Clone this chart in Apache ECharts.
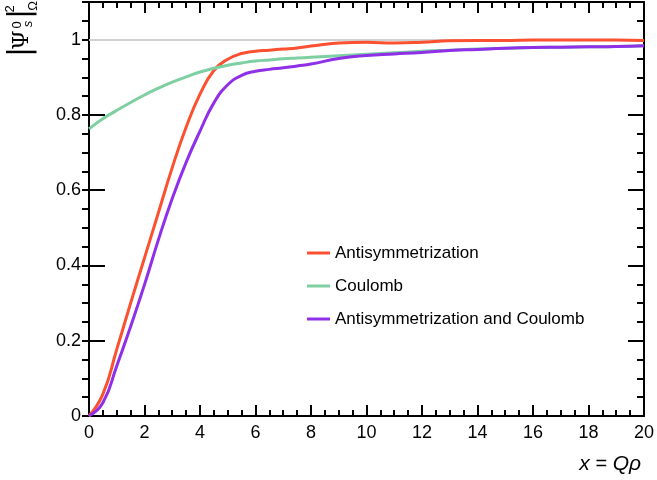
<!DOCTYPE html>
<html>
<head>
<meta charset="utf-8">
<script src="https://cdn.jsdelivr.net/npm/echarts@6.0.0/dist/echarts.min.js"></script>
<style>
html,body{margin:0;padding:0;background:#fff}
#main{width:657px;height:480px}
</style>
</head>
<body>
<div id="main"></div>
<script>
// x = Q rho sample points
var xs = [0,0.5,1,1.5,2,2.5,3,3.5,4,4.5,5,5.5,6,6.5,7,7.5,8,9,10,11,12,13,14,15,16,17,18,19,20];
var antisym = [0,0.058,0.177,0.30,0.42,0.54,0.66,0.767,0.855,0.918,0.948,0.963,0.969,0.972,0.975,0.978,0.983,0.991,0.993,0.991,0.993,0.997,0.998,0.998,0.999,0.999,0.999,0.999,0.998];
var coulomb = [0.763,0.79,0.812,0.833,0.853,0.871,0.887,0.901,0.914,0.924,0.932,0.938,0.943,0.946,0.949,0.951,0.953,0.957,0.961,0.965,0.969,0.972,0.975,0.977,0.979,0.98,0.981,0.982,0.984];
var both = [0,0.035,0.133,0.238,0.349,0.468,0.578,0.674,0.757,0.832,0.88,0.905,0.916,0.921,0.925,0.93,0.935,0.95,0.958,0.962,0.966,0.971,0.974,0.977,0.979,0.98,0.981,0.982,0.984];
var names = ['Antisymmetrization','Coulomb','Antisymmetrization and Coulomb'];
var colors = ['#fc5130','#7ecfa2','#8f2fe8'];

function pairs(ys){
  var out=[]
  for(var i=0;i<xs.length;i++) out.push([xs[i],ys[i]])
  return out
}

var chart = echarts.init(document.getElementById('main'), null, {renderer:'canvas'});
var font = 'Liberation Sans, Arial, sans-serif';
var frame = {show:true, onZero:false, lineStyle:{color:'#000', width:2}};

function xAx(pos, labels){
  return {
    type:'value', position:pos, min:0, max:20, interval:2,
    axisLine:frame,
    axisTick:{show:true, inside:true, length:11, lineStyle:{color:'#000', width:2}},
    minorTick:{show:true, splitNumber:4, length:6, lineStyle:{color:'#000', width:2}},
    axisLabel:{show:labels, color:'#000', fontSize:18, fontFamily:font, margin:8},
    splitLine:{show:false}
  }
}
function yMajor(pos, labels){
  return {
    type:'value', position:pos, min:0, max:1.1, interval:0.2,
    axisLine:frame,
    axisTick:{show:true, inside:true, length:16, lineStyle:{color:'#000', width:2}},
    axisLabel:{show:labels, color:'#000', fontSize:18, fontFamily:font, margin:8, showMaxLabel:false},
    splitLine:{show:false}
  }
}
// short ticks every 0.05; the right one needs inside:false to point into the plot
function yMinor(pos, inside){
  return {
    type:'value', position:pos, min:0, max:1.1, interval:0.05,
    axisLine:{show:false, onZero:false},
    axisTick:{show:true, inside:inside, length:7, lineStyle:{color:'#000', width:2}},
    axisLabel:{show:false},
    splitLine:{show:false}
  }
}

var series = [];
[antisym, coulomb, both].forEach(function(ys, i){
  series.push({
    name:names[i], type:'line', xAxisIndex:0, yAxisIndex:0,
    data:pairs(ys), smooth:0.5, showSymbol:false, symbol:'none',
    lineStyle:{color:colors[i], width:3}, itemStyle:{color:colors[i]},
    z:3+i
  })
})
series[0].markLine = {
  silent:true, symbol:'none', label:{show:false},
  lineStyle:{color:'#d0d0d0', type:'solid', width:2},
  data:[{yAxis:1}], z:1
}

chart.setOption({
  animation:false,
  backgroundColor:'#fff',
  grid:{left:89, right:10, top:2, bottom:64},
  xAxis:[xAx('bottom', true), xAx('top', false)],
  yAxis:[yMajor('left', true), yMinor('left', false), yMajor('right', false), yMinor('right', true)],
  legend:{
    orient:'vertical', left:307, top:243, padding:0, icon:'rect', itemWidth:23, itemHeight:3, itemGap:13,
    data:names,
    textStyle:{color:'#000', fontSize:17, fontFamily:font, lineHeight:20}
  },
  series:series,
  graphic:[
    {type:'text', x:641, y:464, style:{text:'{i|x} = {i|Q\u03c1}', align:'right', verticalAlign:'middle',
      font:'20px ' + font, fill:'#000', rich:{i:{fontStyle:'italic', fontSize:21, fontFamily:font}}}},
    {type:'text', x:21, y:52, rotation:Math.PI/2, style:{text:'|', align:'center', verticalAlign:'middle', font:'30px "DejaVu Sans"', fill:'#000'}},
    {type:'text', x:22, y:40, rotation:Math.PI/2, style:{text:'\u03a8', align:'center', verticalAlign:'middle', font:'22px "DejaVu Serif"', fill:'#000'}},
    {type:'text', x:17, y:25, rotation:Math.PI/2, style:{text:'0', align:'center', verticalAlign:'middle', font:'13px ' + font, fill:'#000'}},
    {type:'text', x:28, y:24, rotation:Math.PI/2, style:{text:'s', align:'center', verticalAlign:'middle', font:'italic 13px ' + font, fill:'#000'}},
    {type:'text', x:21, y:14, rotation:Math.PI/2, style:{text:'|', align:'center', verticalAlign:'middle', font:'30px "DejaVu Sans"', fill:'#000'}},
    {type:'text', x:10, y:9, rotation:Math.PI/2, style:{text:'2', align:'center', verticalAlign:'middle', font:'13px ' + font, fill:'#000'}},
    {type:'text', x:33, y:6, rotation:Math.PI/2, style:{text:'\u03a9', align:'center', verticalAlign:'middle', font:'13px ' + font, fill:'#000'}}
  ]
});
</script>
</body>
</html>
